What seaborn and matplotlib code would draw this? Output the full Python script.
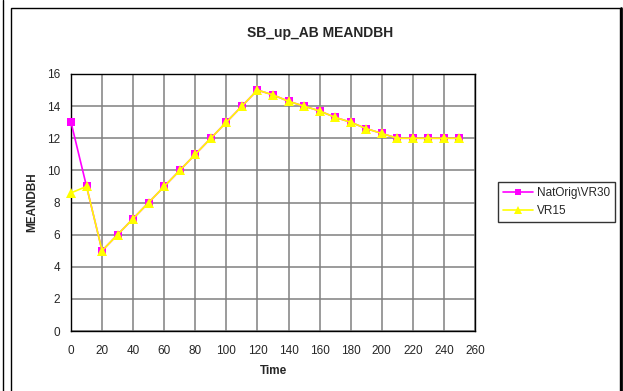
import numpy as np
import matplotlib
matplotlib.use("Agg")
import matplotlib.pyplot as plt
import matplotlib.patches as mpatches
import matplotlib.lines as mlines
import seaborn as sns

# data
time = list(range(0, 260, 10))
natorig_vr30 = [13, 9, 5, 6, 7, 8, 9, 10, 11, 12, 13, 14, 15, 14.7, 14.3, 14,
                13.7, 13.3, 13, 12.6, 12.3, 12, 12, 12, 12, 12]
vr15 = [8.6, 9, 5, 6, 7, 8, 9, 10, 11, 12, 13, 14, 15, 14.7, 14.3, 14,
        13.7, 13.3, 13, 12.6, 12.3, 12, 12, 12, 12, 12]
series_names = ["NatOrig\\VR30", "VR15"]

sns.set_style("white")
plt.rcParams["font.family"] = ["Liberation Sans", "DejaVu Sans"]

fig = plt.figure(figsize=(6.23, 3.91), dpi=100)
ax = fig.add_axes([71 / 623, 1 - 331 / 391, 404 / 623, 257 / 391])

sns.lineplot(x=time, y=natorig_vr30, ax=ax, color="#ff00ff", lw=1.2,
             marker="s", markersize=6, markeredgewidth=0, label=series_names[0],
             zorder=3, clip_on=False)
sns.lineplot(x=time, y=vr15, ax=ax, color="#ffff00", lw=1.2,
             marker="^", markersize=7, markeredgewidth=0, label=series_names[1],
             zorder=4, clip_on=False)

ax.set_xlim(0, 260)
ax.set_ylim(0, 16)
ax.set_xticks(np.arange(0, 261, 20))
ax.set_yticks(np.arange(0, 17, 2))
ax.grid(True, color="#808080", lw=1.1)
ax.set_axisbelow(True)
for s in ax.spines.values():
    s.set_color("black")
    s.set_linewidth(1)
ax.tick_params(axis="both", labelsize=8.5, length=4, width=1, color="black",
               direction="out", pad=4)
ax.tick_params(axis="x", pad=6)
ax.set_xlabel("Time", fontsize=8.5, fontweight="bold", labelpad=6)
ax.set_ylabel("MEANDBH", fontsize=8.5, fontweight="bold", labelpad=6)
fig.text(320 / 623, 1 - 33 / 391, "SB_up_AB MEANDBH", fontsize=10,
         fontweight="bold", ha="center", va="center")

h = [mlines.Line2D([], [], color="#ff00ff", marker="s", markersize=5, lw=1.2, markeredgewidth=0),
     mlines.Line2D([], [], color="#ffff00", marker="^", markersize=6, lw=1.2, markeredgewidth=0)]
leg = ax.legend(h, series_names, loc="center left",
                bbox_to_anchor=(498 / 623, 1 - 202 / 391), bbox_transform=fig.transFigure,
                fontsize=8.5, frameon=True, fancybox=False, edgecolor="black",
                handlelength=2.6, handletextpad=0.3, borderpad=0.4, labelspacing=0.5,
                borderaxespad=0)
leg.get_frame().set_linewidth(1)

# chart area frame
fig.patches.append(mpatches.Rectangle((11 / 623, -0.05), 609 / 623, 1.05 - 8 / 391,
                                      transform=fig.transFigure, fill=False,
                                      edgecolor="black", lw=1))
fig.lines.append(mlines.Line2D([3 / 623, 3 / 623], [0, 1], transform=fig.transFigure,
                               color="black", lw=1))
fig.lines.append(mlines.Line2D([620.5 / 623, 620.5 / 623], [0, 1 - 8 / 391],
                               transform=fig.transFigure, color="black", lw=2))

fig.savefig("out.png", dpi=100)
